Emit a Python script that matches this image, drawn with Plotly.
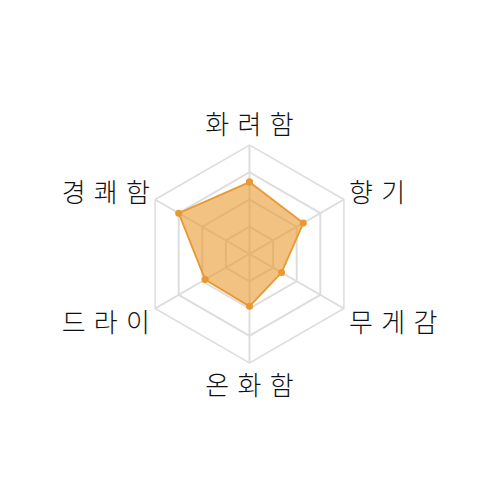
import plotly.graph_objects as go

categories = ["화려함", "향기", "무게감", "온화함", "드라이", "경쾌함"]
values = [66, 57, 34, 48, 47, 75]
tick_labels = ["화 려 함", "향 기", "무 게 감", "온 화 함", "드 라 이", "경 쾌 함"]

r = values + values[:1]
theta = categories + categories[:1]

fig = go.Figure()
fig.add_trace(go.Scatterpolar(
    r=r, theta=theta, mode="lines+markers", fill="toself",
    line=dict(color="#e8992f", width=1.8),
    marker=dict(color="#e8992f", size=7),
    fillcolor="rgba(232,153,47,0.6)",
    showlegend=False,
))

label_font = "DejaVu Sans, Noto Sans CJK KR, sans-serif"

fig.update_layout(
    width=500, height=500,
    margin=dict(l=132, r=149, t=137, b=145),
    paper_bgcolor="white",
    font=dict(family=label_font, size=26, color="#111"),
    polar=dict(
        bgcolor="white",
        gridshape="linear",
        radialaxis=dict(range=[0, 100], tickvals=[25, 50, 75, 100], showticklabels=False,
                        ticks="", showline=False, gridcolor="#dddddd", gridwidth=1.5),
        angularaxis=dict(rotation=90, direction="clockwise", ticks="",
                         tickmode="array", tickvals=categories, ticktext=tick_labels,
                         gridcolor="#dddddd", gridwidth=1.5, linecolor="#dddddd", linewidth=1.5,
                         tickfont=dict(family=label_font, size=26, color="#111", weight=300)),
    ),
)
fig.write_html("out.html")
